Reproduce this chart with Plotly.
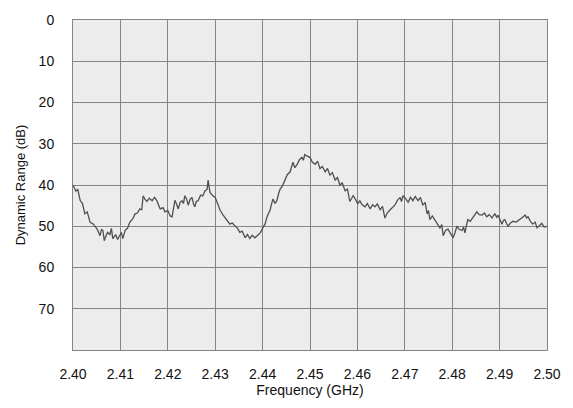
import plotly.graph_objects as go

freq_ghz = [
    2.4000, 2.4006, 2.4010, 2.4015, 2.4020, 2.4025, 2.4030, 2.4036, 2.4043, 2.4051,
    2.4057, 2.4060, 2.4063, 2.4066, 2.4068, 2.4073, 2.4078, 2.4081, 2.4084, 2.4090,
    2.4094, 2.4099, 2.4102, 2.4105, 2.4110, 2.4115, 2.4120, 2.4126, 2.4131, 2.4136,
    2.4141, 2.4145, 2.4148, 2.4152, 2.4156, 2.4161, 2.4167, 2.4172, 2.4177, 2.4181,
    2.4184, 2.4190, 2.4194, 2.4200, 2.4205, 2.4209, 2.4212, 2.4215, 2.4218, 2.4222,
    2.4226, 2.4230, 2.4233, 2.4236, 2.4240, 2.4243, 2.4247, 2.4251, 2.4254, 2.4257,
    2.4260, 2.4264, 2.4269, 2.4274, 2.4278, 2.4283, 2.4285, 2.4289, 2.4294, 2.4300,
    2.4305, 2.4310, 2.4316, 2.4321, 2.4326, 2.4331, 2.4336, 2.4342, 2.4347, 2.4352,
    2.4357, 2.4363, 2.4368, 2.4373, 2.4378, 2.4384, 2.4390, 2.4395, 2.4400, 2.4405,
    2.4410, 2.4416, 2.4419, 2.4422, 2.4426, 2.4430, 2.4434, 2.4437, 2.4442, 2.4447,
    2.4452, 2.4458, 2.4461, 2.4464, 2.4468, 2.4473, 2.4478, 2.4483, 2.4486, 2.4489,
    2.4494, 2.4500, 2.4505, 2.4511, 2.4516, 2.4521, 2.4526, 2.4532, 2.4537, 2.4542,
    2.4547, 2.4553, 2.4558, 2.4563, 2.4568, 2.4574, 2.4579, 2.4584, 2.4588, 2.4591,
    2.4596, 2.4601, 2.4605, 2.4610, 2.4616, 2.4621, 2.4627, 2.4632, 2.4637, 2.4642,
    2.4648, 2.4653, 2.4658, 2.4663, 2.4669, 2.4674, 2.4679, 2.4684, 2.4690, 2.4693,
    2.4696, 2.4701, 2.4707, 2.4712, 2.4717, 2.4722, 2.4728, 2.4733, 2.4738, 2.4743,
    2.4747, 2.4750, 2.4753, 2.4758, 2.4764, 2.4769, 2.4774, 2.4778, 2.4781, 2.4786,
    2.4791, 2.4797, 2.4802, 2.4806, 2.4810, 2.4815, 2.4821, 2.4824, 2.4827, 2.4830,
    2.4833, 2.4838, 2.4842, 2.4847, 2.4852, 2.4857, 2.4863, 2.4868, 2.4873, 2.4878,
    2.4884, 2.4887, 2.4890, 2.4894, 2.4897, 2.4901, 2.4905, 2.4908, 2.4911, 2.4915,
    2.4918, 2.4923, 2.4928, 2.4935, 2.4943, 2.4948, 2.4954, 2.4957, 2.4960, 2.4965,
    2.4970, 2.4975, 2.4979, 2.4984, 2.4989, 2.4994, 2.5000,
]

dynamic_range_db = [
    40.0, 41.5, 41.0, 43.7, 44.5, 47.0, 46.5, 49.0, 49.5, 50.7,
    52.3, 50.8, 51.0, 53.5, 52.8, 51.5, 52.0, 50.5, 53.0, 52.0,
    53.2, 52.3, 51.5, 53.0, 51.0, 50.5, 49.0, 48.2, 47.0, 46.8,
    45.8, 46.0, 42.6, 43.5, 44.0, 43.2, 43.8, 43.0, 43.8, 45.0,
    45.8, 45.5, 46.5, 46.2, 47.5, 47.7, 45.0, 43.7, 44.5, 45.8,
    44.2, 43.8, 44.5, 42.6, 43.5, 44.9, 43.5, 43.0, 44.5, 45.3,
    44.0, 43.8, 42.5, 42.6, 41.5, 41.0, 38.8, 41.8, 42.5, 43.0,
    44.5, 46.0, 47.2, 48.0, 48.5, 49.5, 49.2, 50.0, 50.5, 51.5,
    51.2, 52.8, 52.0, 53.0, 52.2, 52.8, 52.0, 51.6, 50.5, 49.5,
    47.5, 46.0, 44.5, 43.4, 44.5, 43.8, 42.0, 41.0, 40.2, 38.8,
    37.5, 36.8, 35.5, 34.5, 35.8, 35.0, 33.8, 33.3, 34.0, 32.6,
    33.0, 33.3, 34.5, 35.0, 34.2, 36.0, 35.5, 36.8, 36.0, 37.6,
    37.0, 38.8, 38.2, 40.0, 39.5, 41.4, 41.0, 44.0, 43.2, 42.6,
    43.5, 44.6, 43.8, 44.8, 45.3, 44.5, 45.8, 44.8, 45.3, 44.6,
    46.0, 45.2, 48.0, 46.8, 46.0, 45.5, 44.9, 43.8, 43.0, 44.0,
    42.6, 43.2, 44.2, 43.0, 43.8, 42.8, 43.8, 43.0, 44.9, 44.2,
    47.0, 46.2, 48.4, 47.5, 48.8, 49.5, 50.4, 49.6, 52.3, 51.0,
    50.7, 51.8, 52.8, 51.5, 50.0, 50.8, 51.0, 50.2, 51.6, 49.8,
    48.4, 48.8, 48.2, 47.5, 46.5, 47.2, 47.3, 46.8, 47.7, 47.2,
    48.0, 47.4, 47.0, 47.8, 47.3, 48.5, 49.5, 48.6, 48.4, 49.4,
    50.0, 49.2, 48.8, 49.0, 48.4, 47.9, 47.3, 48.0, 47.7, 48.8,
    49.5, 49.0, 50.4, 49.8, 49.3, 50.2, 50.0,
]

x_ticks = [2.40, 2.41, 2.42, 2.43, 2.44, 2.45, 2.46, 2.47, 2.48, 2.49, 2.50]
x_tick_labels = ["2.40", "2.41", "2.42", "2.43", "2.44", "2.45", "2.46", "2.47", "2.48", "2.49", "2.50"]
y_ticks = [0, 10, 20, 30, 40, 50, 60, 70]

fig = go.Figure()
fig.add_trace(go.Scatter(
    x=freq_ghz, y=dynamic_range_db, mode="lines",
    line=dict(color="#505050", width=1.3),
    showlegend=False,
))

font = dict(family="Liberation Sans, Arial, sans-serif", size=14, color="#111111")

fig.update_layout(
    width=573, height=408,
    margin=dict(l=73, r=26, t=15, b=49),
    paper_bgcolor="white",
    plot_bgcolor="#ececec",
    font=font,
    xaxis=dict(
        range=[2.40, 2.50], tickvals=x_ticks, ticktext=x_tick_labels,
        showgrid=True, gridcolor="#858585", gridwidth=1,
        showline=True, linecolor="#858585", linewidth=1, mirror=True,
        zeroline=False, ticks="", ticklabelstandoff=11,
        tickfont=dict(size=14),
        title=dict(text="Frequency (GHz)", font=dict(size=14), standoff=4),
    ),
    yaxis=dict(
        range=[80, 0], tickvals=y_ticks,
        showgrid=True, gridcolor="#858585", gridwidth=1,
        showline=True, linecolor="#858585", linewidth=1, mirror=True,
        zeroline=False, ticks="", ticklabelstandoff=15,
        tickfont=dict(size=14),
        title=dict(text="Dynamic Range (dB)", font=dict(size=13), standoff=10),
    ),
)

fig.write_html("out.html")
